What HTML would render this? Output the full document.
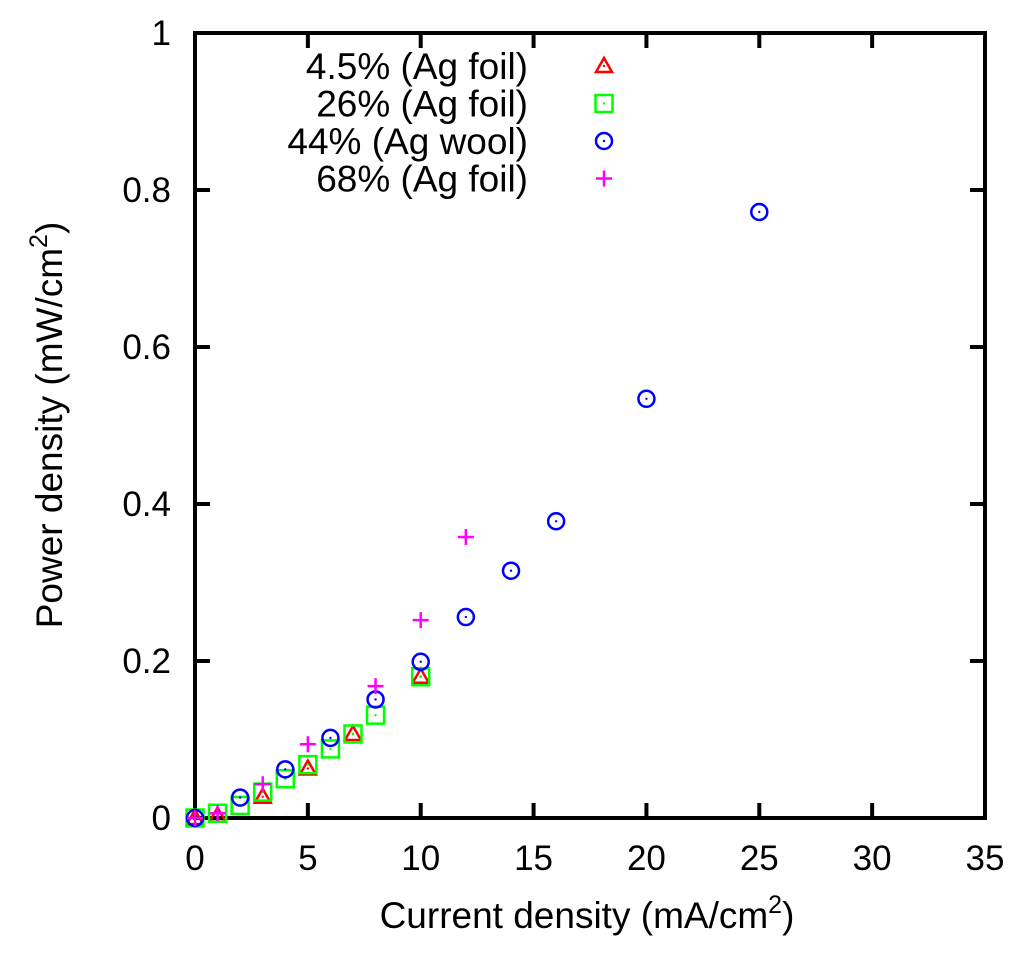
<!DOCTYPE html>
<html><head><meta charset="utf-8"><style>
html,body{margin:0;padding:0;background:#fff}
svg{display:block;font-family:"Liberation Sans",sans-serif}
</style></head><body>
<svg id="chart" width="1024" height="954" viewBox="0 0 1024 954" xmlns="http://www.w3.org/2000/svg">
<g id="axes"></g><g id="marks"></g><g id="legend"></g>
</svg>
<script>
const xTicks=[0,5,10,15,20,25,30,35];
const yTicks=[0,0.2,0.4,0.6,0.8,1];
const yTickLabels=["0","0.2","0.4","0.6","0.8","1"];
const seriesNames=["4.5% (Ag foil)","26% (Ag foil)","44% (Ag wool)","68% (Ag foil)"];
const redX=[0,1,3,5,7,10];
const redY=[0,0.003,0.027,0.063,0.107,0.18];
const greenX=[0,1,2,3,4,5,6,7,8,10];
const greenY=[0,0.006,0.016,0.033,0.05,0.068,0.088,0.107,0.131,0.18];
const blueX=[0,2,4,6,8,10,12,14,16,20,25];
const blueY=[0,0.026,0.062,0.102,0.151,0.199,0.256,0.315,0.378,0.534,0.772];
const magX=[0,1,3,5,8,10,12];
const magY=[0,0.006,0.043,0.094,0.168,0.252,0.358];

const L=195,R=985,T=33,B=818;
const sx=v=>L+(v-0)/35*(R-L);
const sy=v=>B-v*(B-T);
const NS="http://www.w3.org/2000/svg";
function mk(parent,tag,attrs,text){const e=document.createElementNS(NS,tag);for(const k in attrs)e.setAttribute(k,attrs[k]);if(text!==undefined)e.textContent=text;parent.appendChild(e);return e;}
const axes=document.getElementById('axes'),marks=document.getElementById('marks'),legend=document.getElementById('legend');

let frame=mk(axes,'rect',{x:L,y:T,width:R-L,height:B-T,fill:'none',stroke:'#000','stroke-width':4});


xTicks.forEach(v=>{
  const x=sx(v);
  mk(axes,'line',{x1:x,x2:x,y1:B,y2:B-15,stroke:'#000','stroke-width':4});
  mk(axes,'line',{x1:x,x2:x,y1:T,y2:T+15,stroke:'#000','stroke-width':4});
  const t=mk(axes,'text',{x:x,y:B+52,'text-anchor':'middle','font-size':35},String(v));
  
  
});
yTicks.forEach((v,i)=>{
  const y=sy(v);
  mk(axes,'line',{x1:L,x2:L+15,y1:y,y2:y,stroke:'#000','stroke-width':4});
  mk(axes,'line',{x1:R,x2:R-15,y1:y,y2:y,stroke:'#000','stroke-width':4});
  const t=mk(axes,'text',{x:171,y:y+12,'text-anchor':'end','font-size':35},yTickLabels[i]);
  
  
});
let xt=mk(axes,'text',{x:587,y:928,'text-anchor':'middle','font-size':37});
xt.innerHTML='Current density (mA/cm<tspan dy="-15" font-size="25">2</tspan><tspan dy="15">)</tspan>';


let yt=mk(axes,'text',{x:0,y:0,'text-anchor':'middle','font-size':37,transform:'translate(62,425) rotate(-90)'});
yt.innerHTML='Power density (mW/cm<tspan dy="-15" font-size="25">2</tspan><tspan dy="15">)</tspan>';



function marker(g,type,x,y){
  if(type==0){mk(g,'polygon',{points:`${x},${y-8} ${x-8},${y+6} ${x+8},${y+6}`,fill:'none',stroke:'#f00','stroke-width':2.5});mk(g,'circle',{cx:x,cy:y,r:1.2,fill:'#f00'});}
  else if(type==1){mk(g,'rect',{x:x-8.5,y:y-8.5,width:17,height:17,fill:'none',stroke:'#0f0','stroke-width':2.5});mk(g,'circle',{cx:x,cy:y,r:1.2,fill:'#0f0'});}
  else if(type==2){mk(g,'circle',{cx:x,cy:y,r:8,fill:'none',stroke:'#00f','stroke-width':2.5});mk(g,'circle',{cx:x,cy:y,r:1.2,fill:'#00f'});}
  else {mk(g,'path',{d:`M${x-8},${y}H${x+8}M${x},${y-8}V${y+8}`,stroke:'#f0f','stroke-width':2.5});}
}
const sets=[[redX,redY],[greenX,greenY],[blueX,blueY],[magX,magY]];
const names=['series-4-5-ag-foil','series-26-ag-foil','series-44-ag-wool','series-68-ag-foil'];
sets.forEach((s,k)=>{
  const g=mk(marks,'g',{});
  
  
  s[0].forEach((xv,i)=>{
    const p=mk(g,'g',{});
    
    
    marker(p,k,sx(xv),sy(s[1][i]));
  });
});
seriesNames.forEach((n,k)=>{
  const y=66+k*37.5;
  const g=mk(legend,'g',{});
  
  
  mk(g,'text',{x:528,y:y+13,'text-anchor':'end','font-size':37},n);
  marker(g,k,604,y);
});
</script>
</body></html>
